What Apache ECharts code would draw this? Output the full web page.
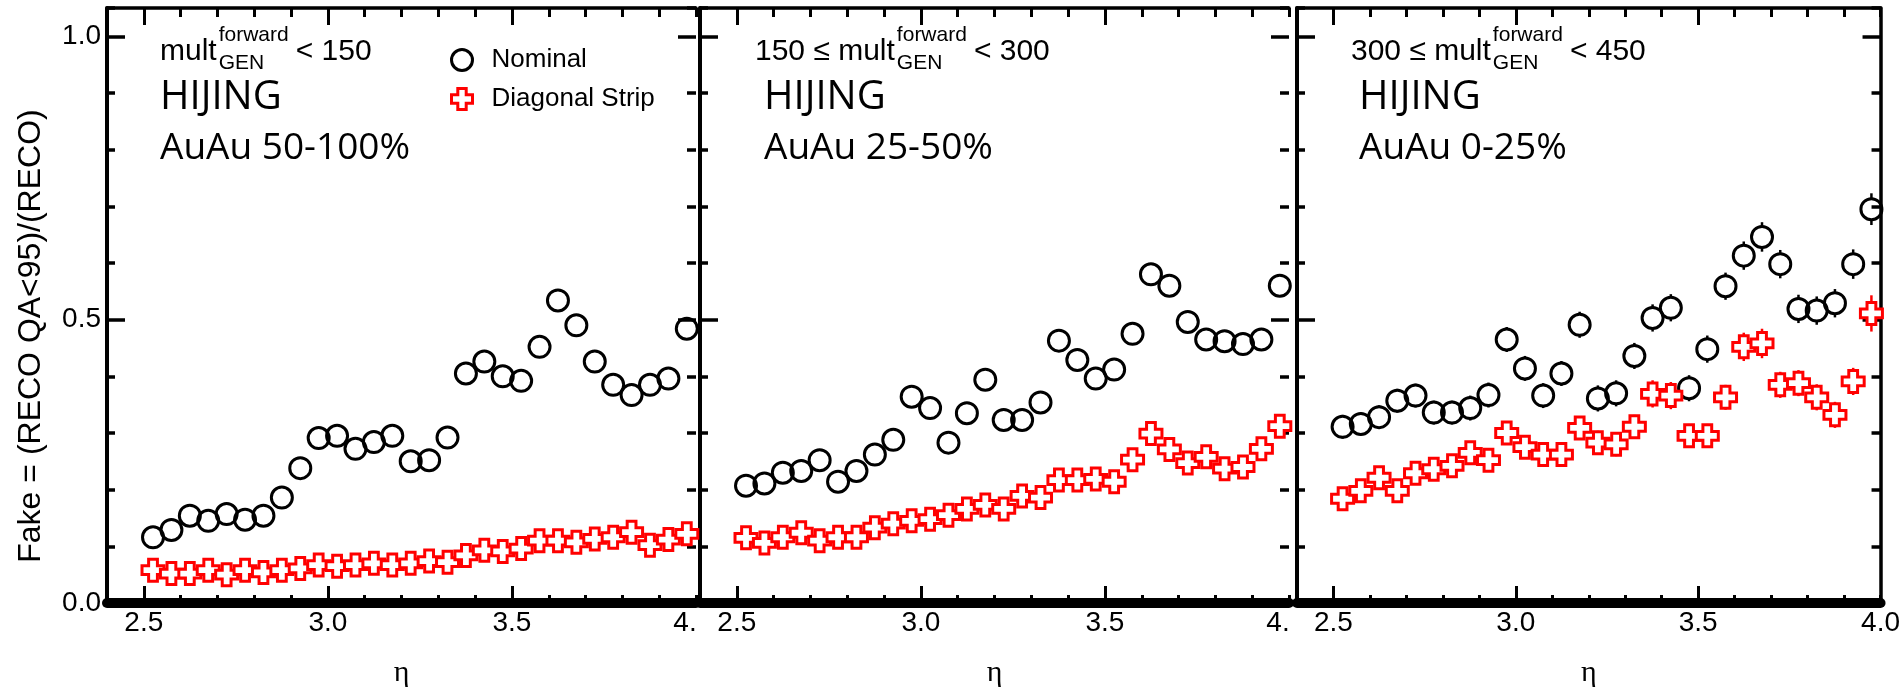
<!DOCTYPE html>
<html><head><meta charset="utf-8">
<script src="https://cdn.jsdelivr.net/npm/echarts@6/dist/echarts.min.js"></script>
<style>html,body{margin:0;padding:0;background:#fff}#c{width:1903px;height:693px}</style>
</head><body><div id="c"></div>
<script>
// ---------------- data ----------------
const eta = [2.525,2.575,2.625,2.675,2.725,2.775,2.825,2.875,2.925,2.975,
             3.025,3.075,3.125,3.175,3.225,3.275,3.325,3.375,3.425,3.475,
             3.525,3.575,3.625,3.675,3.725,3.775,3.825,3.875,3.925,3.975];

const nominal1 = [0.116,0.129,0.154,0.145,0.157,0.147,0.154,0.186,0.238,0.291,
                  0.295,0.272,0.284,0.295,0.250,0.252,0.292,0.405,0.426,0.400,
                  0.392,0.452,0.534,0.490,0.426,0.385,0.367,0.385,0.396,0.484];
const diagonal1 = [0.058,0.052,0.052,0.058,0.050,0.058,0.054,0.058,0.061,0.067,
                   0.065,0.067,0.070,0.067,0.070,0.074,0.072,0.084,0.093,0.091,
                   0.096,0.110,0.110,0.107,0.113,0.116,0.125,0.102,0.112,0.122];

const nominal2 = [0.207,0.211,0.230,0.233,0.252,0.214,0.233,0.262,0.288,0.364,
                  0.344,0.283,0.335,0.394,0.323,0.323,0.354,0.463,0.429,0.396,
                  0.412,0.475,0.580,0.560,0.496,0.465,0.462,0.457,0.465,0.560];
const diagonal2 = [0.115,0.106,0.116,0.124,0.110,0.116,0.116,0.133,0.140,0.145,
                   0.148,0.155,0.166,0.173,0.166,0.189,0.186,0.217,0.217,0.219,
                   0.214,0.253,0.299,0.271,0.247,0.258,0.237,0.240,0.272,0.312];

const nominal3 = [0.311,0.316,0.328,0.357,0.366,0.336,0.336,0.344,0.367,0.465,
                  0.414,0.366,0.405,0.491,0.361,0.370,0.436,0.503,0.521,0.379,
                  0.448,0.559,0.613,0.646,0.598,0.519,0.516,0.529,0.598,0.695];
const diagonal3 = [0.184,0.198,0.221,0.198,0.229,0.236,0.242,0.265,0.252,0.300,
                   0.275,0.262,0.262,0.309,0.283,0.280,0.311,0.369,0.366,0.295,
                   0.295,0.363,0.452,0.458,0.385,0.388,0.363,0.332,0.391,0.511];

// statistical uncertainties visible in the third panel (estimated)
const nominalErr3 = [0.021,0.020,0.021,0.021,0.021,0.021,0.021,0.022,0.022,0.022,
                     0.022,0.022,0.022,0.023,0.023,0.023,0.023,0.024,0.024,0.023,
                     0.024,0.024,0.025,0.026,0.025,0.025,0.025,0.025,0.026,0.028];
const diagonalErr3 = [0.018,0.018,0.019,0.019,0.019,0.019,0.019,0.020,0.020,0.020,
                      0.020,0.020,0.020,0.021,0.021,0.021,0.021,0.024,0.024,0.021,
                      0.021,0.022,0.025,0.026,0.023,0.023,0.023,0.023,0.024,0.032];

const seriesNames = ['Nominal', 'Diagonal Strip'];
const xMajorTicks = [2.5, 3.0, 3.5];
const xTickLabels = [2.5, 3.0, 3.5, 4.0];
const yMajorTicks = [0, 0.5, 1.0];
const yTickLabels = [0, 0.5, 1.0];
const cutPrefix = ['', '150 \u2264 ', '300 \u2264 '];
const cutSuffix = ['< 150', '< 300', '< 450'];
const generatorText = ['HIJING', 'HIJING', 'HIJING'];
const centralityText = ['AuAu 50-100%', 'AuAu 25-50%', 'AuAu 0-25%'];
const yTitle = 'Fake = (RECO QA<95)/(RECO)';
const xTitle = '\u03B7';

// ---------------- layout ----------------
const SANS = '"Liberation Sans", Arial, Helvetica, sans-serif';
const HUMAN = '"Open Sans", "Noto Sans", sans-serif';
const SERIF = '"Liberation Serif", "DejaVu Serif", serif';
const TOP = 8, H = 600, W = 589;
const panelLeft = [107, 700, 1297];
const cutLeft = [160, 755, 1351];
const infoLeft = [160, 764, 1359];
const nominalData = [nominal1, nominal2, nominal3];
const diagonalData = [diagonal1, diagonal2, diagonal3];
const CROSS = 'path://M3,0L7,0L7,3L10,3L10,7L7,7L7,10L3,10L3,7L0,7L0,3L3,3Z';
const CIRCLE_SIZE = 21, CROSS_SIZE = 22;

const mctx = document.createElement('canvas').getContext('2d');
function textW(t, font) { mctx.font = font; return mctx.measureText(t).width; }

// error bar drawn only outside the marker, like ROOT does
function errorBars(color, gap) {
  return function (params, api) {
    const x = api.value(0), y = api.value(1), e = api.value(2);
    const c = api.coord([x, y]);
    const top = api.coord([x, y + e])[1], bot = api.coord([x, y - e])[1];
    const children = [];
    const st = { stroke: color, lineWidth: 2.5 };
    if (c[1] - top > gap) children.push({ type: 'line', shape: { x1: c[0], y1: top, x2: c[0], y2: c[1] - gap }, style: st });
    if (bot - c[1] > gap) children.push({ type: 'line', shape: { x1: c[0], y1: c[1] + gap, x2: c[0], y2: bot }, style: st });
    return { type: 'group', children: children };
  };
}

const grids = [], xAxes = [], yAxes = [], series = [], graphics = [];

for (let i = 0; i < 3; i++) {
  grids.push({ left: panelLeft[i], top: TOP, width: W, height: H, containLabel: false });
  const clipped = i < 2;
  const fmt = v => (Math.abs(v - 4) < 1e-9 && clipped) ? '{c|4.}' : v.toFixed(1);
  xAxes.push({ gridIndex: i, type: 'value', min: 2.4, max: 4.0, position: 'bottom',
    axisLine: { show: true, onZero: false, lineStyle: { color: '#000', width: 10 } },
    axisTick: { show: true, inside: true, length: 17, customValues: xMajorTicks, lineStyle: { color: '#000', width: 3 } },
    axisLabel: { show: true, customValues: xTickLabels, formatter: fmt, margin: 6, color: '#000', fontSize: 28, fontFamily: SANS,
      rich: { c: { color: '#000', fontSize: 28, fontFamily: SANS, padding: [0, 22, 0, 0] } } },
    splitLine: { show: false },
    name: xTitle, nameLocation: 'middle', nameGap: 55,
    nameTextStyle: { color: '#000', fontSize: 30, fontFamily: SERIF } });
  xAxes.push({ gridIndex: i, type: 'value', min: 2.4, max: 4.0, interval: 0.1, position: 'bottom',
    axisLine: { show: false, onZero: false },
    axisTick: { show: true, inside: true, length: 8, lineStyle: { color: '#000', width: 3 } },
    axisLabel: { show: false }, splitLine: { show: false } });
  xAxes.push({ gridIndex: i, type: 'value', min: 2.4, max: 4.0, position: 'top',
    axisLine: { show: true, onZero: false, lineStyle: { color: '#000', width: 3.5 } },
    axisTick: { show: true, inside: true, length: 17, customValues: xMajorTicks, lineStyle: { color: '#000', width: 3 } },
    axisLabel: { show: false }, splitLine: { show: false } });
  xAxes.push({ gridIndex: i, type: 'value', min: 2.4, max: 4.0, interval: 0.1, position: 'top',
    axisLine: { show: false, onZero: false },
    axisTick: { show: true, inside: true, length: 9, lineStyle: { color: '#000', width: 3 } },
    axisLabel: { show: false }, splitLine: { show: false } });

  yAxes.push({ gridIndex: i, type: 'value', min: 0, max: 1.05, position: 'left',
    axisLine: { show: true, onZero: false, lineStyle: { color: '#000', width: 4 } },
    axisTick: { show: true, inside: true, length: 18, customValues: yMajorTicks, lineStyle: { color: '#000', width: 3.5 } },
    axisLabel: { show: i === 0, customValues: yTickLabels, formatter: v => v.toFixed(1), margin: 6, color: '#000', fontSize: 28, fontFamily: SANS },
    splitLine: { show: false } });
  yAxes.push({ gridIndex: i, type: 'value', min: 0, max: 1.05, interval: 0.1, position: 'left',
    axisLine: { show: false, onZero: false },
    axisTick: { show: true, inside: true, length: 8, lineStyle: { color: '#000', width: 3.5 } },
    axisLabel: { show: false }, splitLine: { show: false } });
  yAxes.push({ gridIndex: i, type: 'value', min: 0, max: 1.05, position: 'right',
    axisLine: { show: i === 2, onZero: false, lineStyle: { color: '#000', width: 3.5 } },
    axisTick: { show: true, inside: true, length: 18, customValues: yMajorTicks, lineStyle: { color: '#000', width: 3.5 } },
    axisLabel: { show: false }, splitLine: { show: false } });
  yAxes.push({ gridIndex: i, type: 'value', min: 0, max: 1.05, interval: 0.1, position: 'right',
    axisLine: { show: false, onZero: false },
    axisTick: { show: true, inside: true, length: 9, lineStyle: { color: '#000', width: 3.5 } },
    axisLabel: { show: false }, splitLine: { show: false } });

  if (i === 2) {
    series.push({ type: 'custom', name: 'nominalErr', xAxisIndex: 4 * i, yAxisIndex: 4 * i, z: 2, silent: true,
      renderItem: errorBars('#000', CIRCLE_SIZE / 2), encode: { x: 0, y: 1 },
      data: eta.map((x, k) => [x, nominal3[k], nominalErr3[k]]) });
    series.push({ type: 'custom', name: 'diagonalErr', xAxisIndex: 4 * i, yAxisIndex: 4 * i, z: 2, silent: true,
      renderItem: errorBars('#ff0000', CROSS_SIZE / 2), encode: { x: 0, y: 1 },
      data: eta.map((x, k) => [x, diagonal3[k], diagonalErr3[k]]) });
  }

  series.push({ type: 'scatter', name: seriesNames[0], xAxisIndex: 4 * i, yAxisIndex: 4 * i,
    data: eta.map((x, k) => [x, nominalData[i][k]]),
    symbol: 'circle', symbolSize: CIRCLE_SIZE, clip: false,
    itemStyle: { color: 'rgba(255,255,255,0)', borderColor: '#000', borderWidth: 3, opacity: 1 },
    emphasis: { disabled: true }, z: 3 });
  series.push({ type: 'scatter', name: seriesNames[1], xAxisIndex: 4 * i, yAxisIndex: 4 * i,
    data: eta.map((x, k) => [x, diagonalData[i][k]]),
    symbol: CROSS, symbolSize: CROSS_SIZE, clip: false,
    itemStyle: { color: '#fff', borderColor: '#ff0000', borderWidth: 3, opacity: 1 },
    emphasis: { disabled: true }, z: 3 });

  const bigF = '30px ' + SANS, smallF = '21px ' + SANS;
  const mainText = cutPrefix[i] + 'mult';
  const x0 = cutLeft[i];
  const x1 = x0 + textW(mainText, bigF) + 2;
  const x2 = x1 + Math.max(textW('forward', smallF), textW('GEN', smallF)) + 7;
  graphics.push({ type: 'text', x: x0, y: 51.5, style: { text: mainText, font: bigF, fill: '#000', verticalAlign: 'middle', align: 'left' } });
  graphics.push({ type: 'text', x: x1, y: 35.6, style: { text: 'forward', font: smallF, fill: '#000', verticalAlign: 'middle', align: 'left' } });
  graphics.push({ type: 'text', x: x1, y: 63.3, style: { text: 'GEN', font: smallF, fill: '#000', verticalAlign: 'middle', align: 'left' } });
  graphics.push({ type: 'text', x: x2, y: 51.5, style: { text: cutSuffix[i], font: bigF, fill: '#000', verticalAlign: 'middle', align: 'left' } });
  graphics.push({ type: 'text', x: infoLeft[i], y: 98, style: { text: generatorText[i], font: '40px ' + HUMAN, fill: '#000', verticalAlign: 'middle', align: 'left' } });
  graphics.push({ type: 'text', x: infoLeft[i], y: 148, style: { text: centralityText[i], font: '37px ' + HUMAN, fill: '#000', verticalAlign: 'middle', align: 'left' } });
}

graphics.push({ type: 'text', x: 31.5, y: 336, rotation: Math.PI / 2,
  style: { text: yTitle, font: '32px ' + SANS, fill: '#000', align: 'center', verticalAlign: 'middle' } });

const chart = echarts.init(document.getElementById('c'), null, { renderer: 'canvas' });
chart.setOption({
  animation: false,
  backgroundColor: '#fff',
  grid: grids,
  xAxis: xAxes,
  yAxis: yAxes,
  series: series,
  legend: {
    show: true, orient: 'vertical', left: 445, top: 42,
    data: seriesNames, itemWidth: 21, itemHeight: 21, itemGap: 13, selectedMode: false,
    itemStyle: { borderWidth: 3 },
    textStyle: { color: '#000', fontSize: 26, fontFamily: SANS, padding: [0, 0, 0, 14] }
  },
  graphic: graphics
});
</script></body></html>
